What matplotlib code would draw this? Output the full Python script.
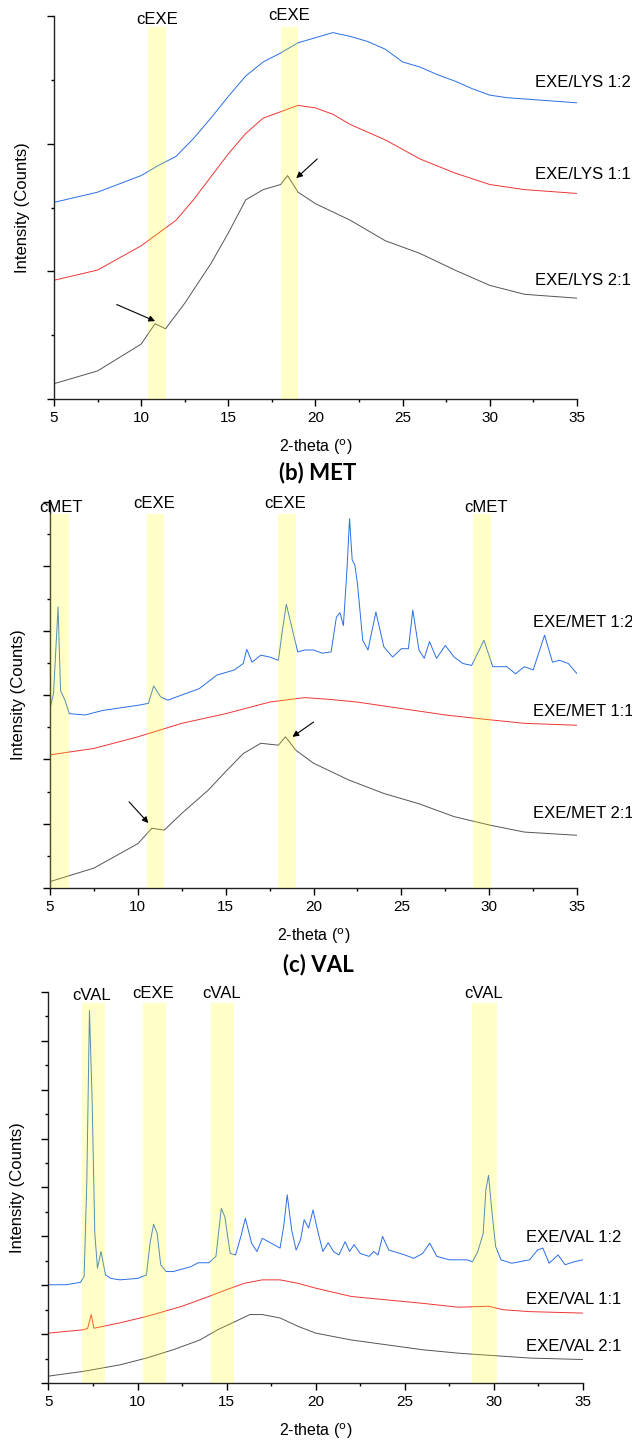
import matplotlib.pyplot as plt
from matplotlib.ticker import MultipleLocator

plt.rcParams['font.family'] = ['Liberation Sans', 'DejaVu Sans']

BLUE = '#2a6fe6'
RED = '#ee3535'
GREY = '#555555'

# ---- (a) LYS ----
lys_12_x = [5, 7.5, 10, 11, 12, 13, 14, 15, 16, 17, 18, 19, 20, 21, 22, 23, 24, 25,
            26, 27, 28, 29, 30, 31, 33, 35]
lys_12_y = [1.54, 1.62, 1.75, 1.83, 1.90, 2.04, 2.20, 2.37, 2.53, 2.64, 2.71, 2.79,
            2.83, 2.87, 2.84, 2.80, 2.74, 2.64, 2.60, 2.54, 2.49, 2.43, 2.38, 2.36,
            2.34, 2.32]
lys_11_x = [5, 7.5, 10, 11, 12, 13, 14, 15, 16, 17, 18, 19, 20, 21, 22, 24, 26, 28,
            30, 32, 35]
lys_11_y = [0.93, 1.01, 1.20, 1.30, 1.40, 1.56, 1.74, 1.92, 2.08, 2.20, 2.25, 2.30,
            2.28, 2.23, 2.15, 2.03, 1.88, 1.77, 1.68, 1.64, 1.61]
lys_21_x = [5, 7.5, 10, 10.8, 11.4, 12.5, 14, 15, 16, 17, 18, 18.4, 19, 20, 22, 24,
            26, 28, 30, 32, 35]
lys_21_y = [0.12, 0.22, 0.43, 0.59, 0.55, 0.75, 1.06, 1.30, 1.56, 1.64, 1.68, 1.75,
            1.62, 1.53, 1.40, 1.24, 1.14, 1.01, 0.89, 0.82, 0.79]
lys_bands = [(10.4, 11.4), (18.0, 19.0)]
lys_band_labels = ['cEXE', 'cEXE']
lys_band_label_x = [10.9, 18.5]
lys_band_label_y = [2.97, 3.0]
lys_names = ['EXE/LYS 1:2', 'EXE/LYS 1:1', 'EXE/LYS 2:1']
lys_name_y = [2.48, 1.76, 0.93]
lys_arrows = [((8.6, 0.74), (10.8, 0.61)), ((20.1, 1.88), (18.9, 1.73))]

# ---- (b) MET ----
met_12_x = [5, 5.2, 5.46, 5.6, 5.85, 6.1, 7, 8, 10, 10.6, 10.9, 11.3, 11.7, 12.5,
            13.5, 14.5, 15.5, 16, 16.2, 16.5, 17, 17.5, 18, 18.2, 18.45, 18.8, 19.1,
            19.5, 20, 20.5, 21, 21.3, 21.5, 21.7, 21.9, 22.05, 22.2, 22.35, 22.5, 22.8,
            23.1, 23.55, 24, 24.5, 25, 25.4, 25.65, 26, 26.3, 26.6, 27, 27.5, 28, 28.5,
            29, 29.7, 30.2, 31, 31.5, 32, 32.5, 33.15, 33.6, 34, 34.5, 35]
met_12_y = [2.79, 3.02, 4.37, 3.07, 2.92, 2.71, 2.69, 2.76, 2.84, 2.87, 3.14, 2.97,
            2.92, 3.00, 3.10, 3.31, 3.39, 3.49, 3.71, 3.51, 3.62, 3.59, 3.54, 3.95,
            4.41, 4.01, 3.67, 3.70, 3.70, 3.65, 3.67, 4.21, 4.28, 4.08, 4.94, 5.74,
            5.10, 5.02, 4.73, 3.85, 3.70, 4.29, 3.75, 3.59, 3.72, 3.72, 4.32, 3.70,
            3.57, 3.83, 3.57, 3.77, 3.59, 3.49, 3.46, 3.85, 3.44, 3.44, 3.33, 3.44,
            3.39, 3.93, 3.51, 3.54, 3.49, 3.33]
met_11_x = [5, 7.5, 10, 12.5, 15, 17.5, 19.5, 21, 22.5, 25, 27.5, 29.5, 32, 35]
met_11_y = [2.07, 2.17, 2.35, 2.56, 2.71, 2.89, 2.96, 2.93, 2.89, 2.79, 2.69, 2.63,
            2.56, 2.53]
met_21_x = [5, 7.5, 10, 10.8, 11.5, 12.5, 14, 15, 16, 17, 18, 18.4, 19, 20, 22, 24,
            26, 28, 30, 32, 35]
met_21_y = [0.10, 0.31, 0.69, 0.93, 0.90, 1.16, 1.52, 1.81, 2.09, 2.25, 2.22, 2.35,
            2.14, 1.94, 1.68, 1.47, 1.31, 1.11, 0.98, 0.87, 0.82]
met_bands = [(5.0, 6.1), (10.5, 11.5), (18.0, 19.0), (29.1, 30.1)]
met_band_labels = ['cMET', 'cEXE', 'cEXE', 'cMET']
met_band_label_x = [5.6, 10.9, 18.4, 29.8]
met_band_label_y = [5.92, 5.97, 5.97, 5.92]
met_names = ['EXE/MET 1:2', 'EXE/MET 1:1', 'EXE/MET 2:1']
met_name_y = [4.13, 2.75, 1.16]
met_arrows = [((9.5, 1.34), (10.6, 1.01)), ((20.0, 2.58), (18.8, 2.35))]

# ---- (c) VAL ----
val_12_x = [5, 6, 6.8, 7.0, 7.15, 7.3, 7.45, 7.6, 7.75, 7.95, 8.2, 8.5, 9, 10, 10.5,
            10.7, 10.9, 11.1, 11.3, 11.6, 12, 13, 13.4, 14, 14.4, 14.7, 14.9, 15.2,
            15.5, 15.8, 16.05, 16.4, 16.7, 17.0, 17.5, 18, 18.2, 18.4, 18.65, 18.9,
            19.15, 19.35, 19.6, 19.85, 20.1, 20.4, 20.7, 21.0, 21.3, 21.65, 21.9,
            22.15, 22.5, 23, 23.25, 23.5, 23.75, 24.1, 25, 25.5, 26, 26.4, 26.8, 27.5,
            28.5, 28.8, 29.1, 29.4, 29.55, 29.7, 29.9, 30.1, 30.4, 31, 32, 32.45,
            32.75, 33.1, 33.6, 34, 34.5, 35]
val_12_y = [2.01, 2.01, 2.06, 2.18, 4.08, 7.62, 5.79, 3.06, 2.35, 2.69, 2.21, 2.14,
            2.11, 2.14, 2.21, 2.86, 3.25, 3.06, 2.42, 2.28, 2.28, 2.38, 2.46, 2.46,
            2.59, 3.57, 3.40, 2.65, 2.62, 3.00, 3.37, 2.86, 2.69, 2.96, 2.86, 2.76,
            3.20, 3.85, 3.13, 2.72, 2.93, 3.34, 3.17, 3.54, 3.13, 2.69, 2.87, 2.69,
            2.62, 2.89, 2.69, 2.83, 2.65, 2.59, 2.69, 2.62, 3.00, 2.72, 2.62, 2.55,
            2.65, 2.86, 2.59, 2.52, 2.52, 2.48, 2.69, 3.06, 3.95, 4.25, 3.47, 2.79,
            2.52, 2.45, 2.52, 2.72, 2.76, 2.45, 2.62, 2.42, 2.48, 2.52]
val_11_x = [5, 7, 7.2, 7.4, 7.55, 9, 10.5, 12.5, 14, 15, 16, 17, 18, 19, 20, 22, 24,
            26, 28, 29.7, 30.5, 32, 35]
val_11_y = [1.02, 1.09, 1.12, 1.40, 1.12, 1.23, 1.36, 1.57, 1.77, 1.91, 2.04, 2.11,
            2.11, 2.04, 1.94, 1.77, 1.70, 1.63, 1.55, 1.57, 1.50, 1.46, 1.43]
val_21_x = [5, 7, 9, 10.5, 12, 13.5, 14.5, 15.5, 16.3, 17, 18, 19, 20, 22, 24, 26, 28,
            30, 32, 35]
val_21_y = [0.14, 0.24, 0.37, 0.51, 0.68, 0.88, 1.09, 1.26, 1.40, 1.40, 1.33, 1.16,
            1.02, 0.88, 0.78, 0.68, 0.61, 0.56, 0.51, 0.48]
val_bands = [(6.9, 8.2), (10.3, 11.6), (14.1, 15.4), (28.8, 30.2)]
val_band_labels = ['cVAL', 'cEXE', 'cVAL', 'cVAL']
val_band_label_x = [7.4, 10.9, 14.7, 29.4]
val_band_label_y = [7.92, 7.96, 7.96, 7.96]
val_names = ['EXE/VAL 1:2', 'EXE/VAL 1:1', 'EXE/VAL 2:1']
val_name_y = [2.98, 1.70, 0.75]


def panel(ax, curves, ymax, band_top, bands, band_labels, blx, bly, names, name_x,
          name_y, arrows):
    for (x, y), c in zip(curves, [BLUE, RED, GREY]):
        ax.plot(x, y, color=c, lw=0.7, zorder=2)
    for lo, hi in bands:
        ax.fill_between([lo, hi], 0, band_top, color='#ffff00', alpha=0.22,
                        lw=0, zorder=3)
    for t, x, y in zip(band_labels, blx, bly):
        ax.text(x, y, t, ha='center', va='center', fontsize=12, clip_on=False,
                zorder=4)
    for t, y in zip(names, name_y):
        ax.text(name_x, y, t, ha='left', va='center', fontsize=12,
                clip_on=False)
    for start, end in arrows:
        ax.annotate('', xy=end, xytext=start,
                    arrowprops=dict(arrowstyle='-|>', color='black', lw=0.8,
                                    mutation_scale=9, shrinkA=0, shrinkB=0))
    ax.set_xlim(5, 35)
    ax.set_ylim(0, ymax)
    ax.xaxis.set_major_locator(MultipleLocator(5))
    ax.xaxis.set_minor_locator(MultipleLocator(2.5))
    ax.yaxis.set_major_locator(MultipleLocator(1))
    ax.yaxis.set_minor_locator(MultipleLocator(0.5))
    ax.set_yticklabels([])
    ax.tick_params(which='major', direction='out', length=5, width=1.0,
                   labelsize=11)
    ax.tick_params(which='minor', direction='out', length=2.5, width=1.0)
    ax.tick_params(axis='y', which='both', labelleft=False)
    for s in ['top', 'right']:
        ax.spines[s].set_visible(False)
    for s in ['left', 'bottom']:
        ax.spines[s].set_linewidth(1.0)
        ax.spines[s].set_color('#222222')
    ax.set_xlabel(r'2-theta ($^{\rm o}$)', fontsize=11.5, labelpad=9)
    ax.set_ylabel('Intensity (Counts)', fontsize=12, labelpad=12)


fig = plt.figure(figsize=(6.32, 14.4), dpi=100)
ax_a = fig.add_axes([0.0854, 0.7229, 0.8275, 0.266])
ax_b = fig.add_axes([0.0791, 0.3833, 0.834, 0.2681])
ax_c = fig.add_axes([0.0767, 0.0396, 0.8457, 0.2715])

panel(ax_a, [(lys_12_x, lys_12_y), (lys_11_x, lys_11_y), (lys_21_x, lys_21_y)],
      3, 2.91, lys_bands, lys_band_labels, lys_band_label_x, lys_band_label_y,
      lys_names, 32.6, lys_name_y, lys_arrows)
panel(ax_b, [(met_12_x, met_12_y), (met_11_x, met_11_y), (met_21_x, met_21_y)],
      6, 5.82, met_bands, met_band_labels, met_band_label_x, met_band_label_y,
      met_names, 32.5, met_name_y, met_arrows)
panel(ax_c, [(val_12_x, val_12_y), (val_11_x, val_11_y), (val_21_x, val_21_y)],
      8, 7.78, val_bands, val_band_labels, val_band_label_x, val_band_label_y,
      val_names, 31.8, val_name_y, [])

fig.text(318 / 632, 1 - 473 / 1440, '(b) MET', ha='center', va='center',
         fontsize=16, fontweight='bold', family=['Lato', 'DejaVu Sans'])
fig.text(318 / 632, 1 - 965 / 1440, '(c) VAL', ha='center', va='center',
         fontsize=16, fontweight='bold', family=['Lato', 'DejaVu Sans'])

fig.savefig('out.png', dpi=100)
